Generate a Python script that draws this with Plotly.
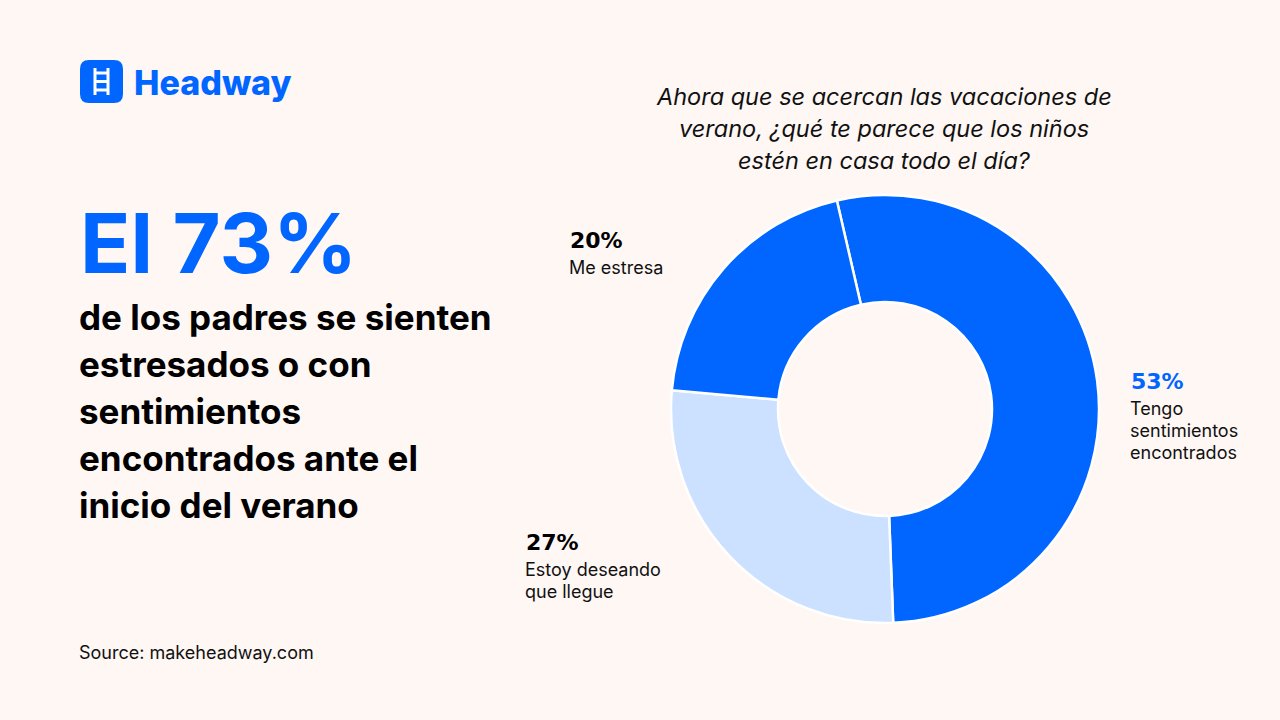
import plotly.graph_objects as go

# ---- data ----
categories = ["Tengo sentimientos encontrados", "Estoy deseando que llegue", "Me estresa"]
values = [53, 27, 20]
slice_colors = ["#0066FF", "#CCE0FF", "#0066FF"]
pct_labels = ["53%", "27%", "20%"]
label_lines = [["Tengo", "sentimientos", "encontrados"], ["Estoy deseando", "que llegue"], ["Me estresa"]]
pct_colors = ["#0066FF", "#000000", "#000000"]

question_lines = ["Ahora que se acercan las vacaciones de",
                  "verano, ¿qué te parece que los niños",
                  "estén en casa todo el día?"]
headline = "El 73%"
body_lines = ["de los padres se sienten", "estresados o con", "sentimientos",
              "encontrados ante el", "inicio del verano"]
brand = "Headway"
source = "Source: makeheadway.com"

BG = "#FEF7F4"
BLUE = "#0066FF"
W, H = 1280, 720

fig = go.Figure()

# donut
cx, cy, R = 885, 409, 214
fig.add_trace(go.Pie(
    labels=categories, values=values, hole=0.5, sort=False,
    direction="clockwise", rotation=-13,
    marker=dict(colors=slice_colors, line=dict(color="#FFFFFF", width=2.5)),
    textinfo="none", hoverinfo="label+percent", showlegend=False,
    domain=dict(x=[(cx - R) / W, (cx + R) / W], y=[(H - cy - R) / H, (H - cy + R) / H]),
))

# invisible pixel axes for decorations
fig.add_trace(go.Scatter(x=[0, W], y=[0, H], mode="markers", marker=dict(opacity=0),
                         hoverinfo="skip", showlegend=False))

anns = []
def txt(x, y, text, size, color="#000000", family="Inter", weight=400, style="normal",
        xanchor="left", yanchor="middle"):
    anns.append(dict(x=x, y=y, xref="x", yref="y", text=text, showarrow=False,
                     xanchor=xanchor, yanchor=yanchor, borderpad=0, borderwidth=0,
                     font=dict(size=size, color=color, family=family, weight=weight, style=style)))

# logo text
txt(134, 82, brand, 34, BLUE, "Inter", 800)

# headline
txt(80, 243, headline, 83, BLUE, "Inter", 700)

# body
for i, line in enumerate(body_lines):
    txt(79, 317 + i * 47, line, 35, "#000000", "Inter", 700)

# question
for i, line in enumerate(question_lines):
    txt(884, 96 + i * 32, line, 23.5, "#111111", "Inter", 400, "italic", xanchor="center")

# slice labels
label_pos = [(1131, 381), (526, 542), (570, 240)]
for (lx, ly), p, lines, pc in zip(label_pos, pct_labels, label_lines, pct_colors):
    txt(lx, ly, "<b>" + p + "</b>", 22, pc, "DejaVu Sans", 700)
    for j, l in enumerate(lines):
        txt(lx - 1, ly + 27 + j * 22, l, 18, "#111111", "Inter", 400)

# source
txt(79, 652, source, 18, "#111111", "Inter", 400)

# logo square (rounded) + ladder icon
x0, y0, x1, y1, r = 80, 60, 123, 103, 9
path = (f"M{x0+r},{y0} L{x1-r},{y0} Q{x1},{y0} {x1},{y0+r} L{x1},{y1-r} Q{x1},{y1} {x1-r},{y1} "
        f"L{x0+r},{y1} Q{x0},{y1} {x0},{y1-r} L{x0},{y0+r} Q{x0},{y0} {x0+r},{y0} Z")
shapes = [dict(type="path", path=path, xref="x", yref="y", fillcolor=BLUE, line=dict(width=0), layer="above")]
for xr in (95, 108):
    shapes.append(dict(type="line", x0=xr, x1=xr, y0=68, y1=95, xref="x", yref="y",
                       line=dict(color="white", width=3), layer="above"))
for yr in (73, 81.5, 90):
    shapes.append(dict(type="line", x0=95, x1=108, y0=yr, y1=yr, xref="x", yref="y",
                       line=dict(color="white", width=3), layer="above"))

fig.update_layout(
    width=W, height=H, margin=dict(l=0, r=0, t=0, b=0),
    paper_bgcolor=BG, plot_bgcolor="rgba(0,0,0,0)",
    xaxis=dict(range=[0, W], visible=False, fixedrange=True, domain=[0, 1]),
    yaxis=dict(range=[H, 0], visible=False, fixedrange=True, domain=[0, 1]),
    annotations=anns, shapes=shapes, showlegend=False,
)

fig.write_html("out.html", config={"displayModeBar": False})
